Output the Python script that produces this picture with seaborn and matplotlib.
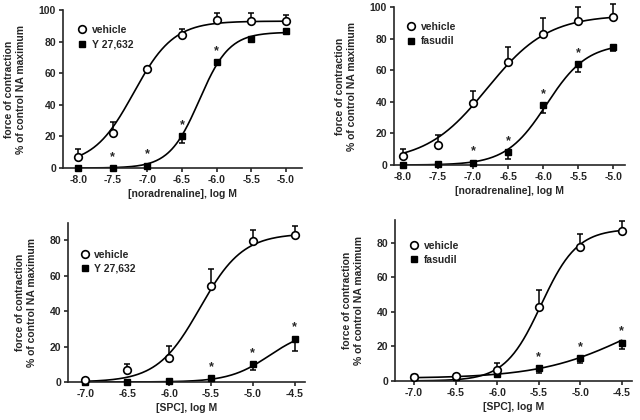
import numpy as np
import pandas as pd
import matplotlib
matplotlib.use('Agg')
import matplotlib.pyplot as plt
import seaborn as sns

# concentrations (log M)
na_x = [-8.0, -7.5, -7.0, -6.5, -6.0, -5.5, -5.0]
spc_x = [-7.0, -6.5, -6.0, -5.5, -5.0, -4.5]

# panel A: noradrenaline, Y 27,632
a_veh = [7, 22, 63, 84, 94, 93, 93]
a_veh_err = [5, 7, 1, 4, 4, 5, 4]
a_drug = [0, 0, 1.5, 20, 67, 82, 87]
a_drug_err = [0, 0, 0, 4, 2, 2, 1]
a_stars = [-7.5, -7.0, -6.5, -6.0]

# panel B: noradrenaline, fasudil
b_veh = [6, 13, 39, 65, 83, 91, 94]
b_veh_err = [4, 6, 8, 10, 10, 9, 8]
b_drug = [0, 0.5, 1.5, 8, 38, 64, 75]
b_drug_err = [0, 0, 0, 4, 5, 5, 3]
b_stars = [-7.0, -6.5, -6.0, -5.5]

# panel C: SPC, Y 27,632
c_veh = [1, 6.7, 13.5, 54.5, 79.5, 83.3]
c_veh_err = [1, 3.5, 7, 9.5, 6.5, 5]
c_drug = [0, 0, 0.5, 2, 10, 24.5]
c_drug_err = [0, 0, 0, 0, 3.5, 7]
c_stars = [-5.5, -5.0, -4.5]

# panel D: SPC, fasudil
d_veh = [2.3, 2.9, 6.3, 43, 77.5, 86.7]
d_veh_err = [1, 1, 4, 9.5, 7.5, 5.5]
d_drug = [2, 2, 4, 7.3, 13.3, 22.2]
d_drug_err = [0, 0, 2, 2.5, 3, 4]
d_stars = [-5.5, -5.0, -4.5]

# fitted curves: bottom, top, logEC50, hill slope
a_veh_fit = [2, 93, -7.2, 1.5]
a_drug_fit = [0, 86, -6.25, 2.0]
b_veh_fit = [2, 95, -6.8, 1.0]
b_drug_fit = [0, 77, -5.95, 1.5]
c_veh_fit = [0, 84, -5.63, 1.7]
c_drug_fit = [0, 30, -4.8, 1.8]
d_veh_fit = [0, 88, -5.47, 2.0]
d_drug_fit = [1.5, 50, -4.4, 0.8]


def hill(x, p):
    bottom, top, ec50, h = p
    return bottom + (top - bottom) / (1 + 10 ** ((ec50 - x) * h))


sns.set_theme(style='ticks')
plt.rcParams['font.family'] = ['Liberation Sans', 'DejaVu Sans']
plt.rcParams['font.weight'] = 'bold'
plt.rcParams['axes.linewidth'] = 1.2
plt.rcParams['xtick.major.width'] = 1.2
plt.rcParams['ytick.major.width'] = 1.2
plt.rcParams['xtick.major.size'] = 3
plt.rcParams['ytick.major.size'] = 3

fig = plt.figure(figsize=(6.4, 4.2), dpi=100)

panels = [
    dict(rect=[0.0984, 0.600, 0.373, 0.376], x=na_x, veh=a_veh, veh_err=a_veh_err,
         drug=a_drug, drug_err=a_drug_err, stars=a_stars, vfit=a_veh_fit, dfit=a_drug_fit,
         drug_name='Y 27,632', xlim=(-8.22, -4.77), ylim=(0, 100), leg=(0.028, 0.945),
         yticks=[0, 20, 40, 60, 80, 100], xlabel='[noradrenaline], log M'),
    dict(rect=[0.6156, 0.607, 0.361, 0.376], x=na_x, veh=b_veh, veh_err=b_veh_err,
         drug=b_drug, drug_err=b_drug_err, stars=b_stars, vfit=b_veh_fit, dfit=b_drug_fit,
         drug_name='fasudil', xlim=(-8.13, -4.83), ylim=(0, 100), leg=(0.02, 0.945),
         yticks=[0, 20, 40, 60, 80, 100], xlabel='[noradrenaline], log M'),
    dict(rect=[0.106, 0.0905, 0.370, 0.379], x=spc_x, veh=c_veh, veh_err=c_veh_err,
         drug=c_drug, drug_err=c_drug_err, stars=c_stars, vfit=c_veh_fit, dfit=c_drug_fit,
         drug_name='Y 27,632', xlim=(-7.21, -4.38), ylim=(0, 90), leg=(0.02, 0.87),
         yticks=[0, 20, 40, 60, 80], xlabel='[SPC], log M'),
    dict(rect=[0.617, 0.093, 0.370, 0.383], x=spc_x, veh=d_veh, veh_err=d_veh_err,
         drug=d_drug, drug_err=d_drug_err, stars=d_stars, vfit=d_veh_fit, dfit=d_drug_fit,
         drug_name='fasudil', xlim=(-7.23, -4.38), ylim=(0, 93), leg=(0.03, 0.91),
         yticks=[0, 20, 40, 60, 80], xlabel='[SPC], log M'),
]

for p in panels:
    ax = fig.add_axes(p['rect'])
    xs = np.array(p['x'])
    grid = np.linspace(xs.min(), xs.max(), 200)
    curves = pd.DataFrame({
        'x': np.concatenate([grid, grid]),
        'y': np.concatenate([hill(grid, p['vfit']), hill(grid, p['dfit'])]),
        'group': ['vehicle'] * len(grid) + [p['drug_name']] * len(grid),
    })
    sns.lineplot(data=curves, x='x', y='y', units='group', estimator=None,
                 color='black', lw=1.2, ax=ax, legend=False)

    # one-sided error bars: vehicle up, drug down
    ax.errorbar(xs, p['veh'], yerr=[np.zeros(len(xs)), p['veh_err']], fmt='none',
                ecolor='black', elinewidth=1.1, capsize=2.5, capthick=1.1, clip_on=False)
    ax.errorbar(xs, p['drug'], yerr=[p['drug_err'], np.zeros(len(xs))], fmt='none',
                ecolor='black', elinewidth=1.1, capsize=2.5, capthick=1.1, clip_on=False)

    ax.plot(xs, p['drug'], 's', color='black', ms=5, clip_on=False, zorder=4,
            label=p['drug_name'])
    ax.plot(xs, p['veh'], 'o', mfc='white', mec='black', mew=1.2, ms=5.5,
            clip_on=False, zorder=5, label='vehicle')

    for sx in p['stars']:
        sy = p['drug'][p['x'].index(sx)]
        ax.annotate('*', (sx, sy), xytext=(0, 8), textcoords='offset points',
                    ha='center', va='center', fontsize=9, fontweight='bold')

    handles, labels = ax.get_legend_handles_labels()
    ax.legend(handles[::-1], labels[::-1], loc='upper left', bbox_to_anchor=p['leg'],
              frameon=False, fontsize=7.5, handletextpad=0.3, handlelength=1.2,
              labelspacing=0.4, borderaxespad=0.2)

    ax.set_xlim(*p['xlim'])
    ax.set_ylim(*p['ylim'])
    ax.set_xticks(xs)
    ax.set_xticklabels([f'{v:.1f}' for v in xs])
    ax.set_yticks(p['yticks'])
    ax.tick_params(labelsize=7.5, pad=2)
    for lab in ax.get_xticklabels() + ax.get_yticklabels():
        lab.set_fontweight('bold')
    ax.set_xlabel(p['xlabel'], fontsize=7.5, fontweight='bold', labelpad=3)
    ax.set_ylabel('force of contraction\n% of control NA maximum', fontsize=7.5,
                  fontweight='bold', labelpad=9, linespacing=1.25)
    sns.despine(ax=ax)

fig.savefig('out.png', dpi=100)
